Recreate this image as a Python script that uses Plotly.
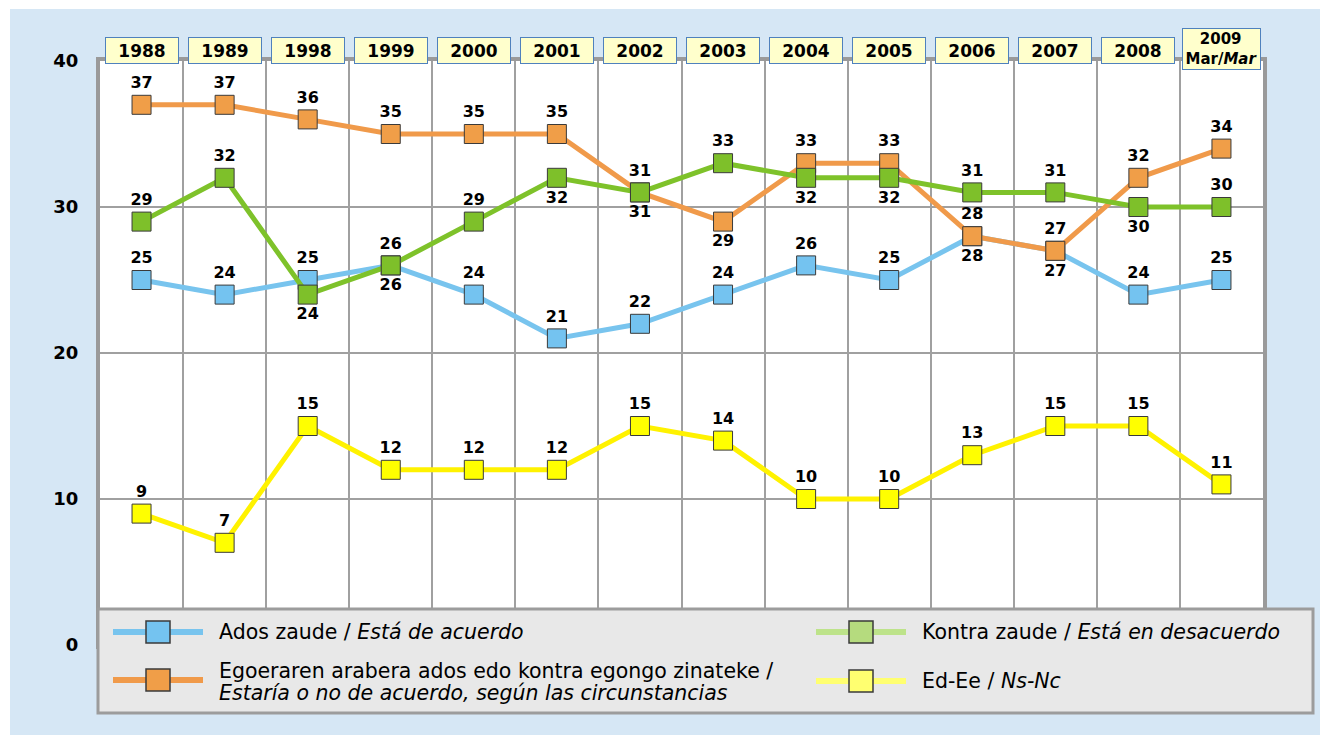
import plotly.graph_objects as go

years = ["1988", "1989", "1998", "1999", "2000", "2001", "2002", "2003",
         "2004", "2005", "2006", "2007", "2008", "2009"]
year_labels = ["1988", "1989", "1998", "1999", "2000", "2001", "2002", "2003",
               "2004", "2005", "2006", "2007", "2008", "2009<br>Mar/<i>Mar</i>"]

ados = [25, 24, 25, 26, 24, 21, 22, 24, 26, 25, 28, 27, 24, 25]
egoeraren = [37, 37, 36, 35, 35, 35, 31, 29, 33, 33, 28, 27, 32, 34]
kontra = [29, 32, 24, 26, 29, 32, 31, 33, 32, 32, 31, 31, 30, 30]
nsnc = [9, 7, 15, 12, 12, 12, 15, 14, 10, 10, 13, 15, 15, 11]

ados_pos = ["top center"] * 14
egoeraren_pos = ["top center"] * 14
for i in (7, 10, 11):
    egoeraren_pos[i] = "bottom center"
kontra_pos = ["top center" if i in (0, 1, 4, 7, 10, 11, 13) else "bottom center" for i in range(14)]
nsnc_pos = ["top center"] * 14

# page body has an 8px margin; work in reference-pixel coordinates
OFF = 8
W, H = 1328 - OFF, 735 - OFF
ML, MT = 100 - OFF, 61 - OFF
MR = W - (1263 - OFF)
MB = H - (645 - OFF)
PW, PH = W - ML - MR, H - MT - MB


def px(x):
    return (x - OFF - ML) / PW


def py(y):
    return (H - MB - (y - OFF)) / PH


FONT = "DejaVu Sans, Verdana, sans-serif"
MK_LINE = dict(color="#3a3a3a", width=1)

series = [
    ("Ados zaude", ados, ados_pos, "#78C4EE", "#74C3F0"),
    ("Egoeraren", egoeraren, egoeraren_pos, "#F09A4A", "#F09E48"),
    ("Kontra zaude", kontra, kontra_pos, "#7EC22A", "#7EC02A"),
    ("Ed-Ee", nsnc, nsnc_pos, "#FFF200", "#FFFF00"),
]

fig = go.Figure()
for name, vals, pos, lc, mc in series:
    fig.add_trace(go.Scatter(
        x=years, y=vals, mode="lines+markers+text", name=name,
        text=[str(v) for v in vals], textposition=pos,
        textfont=dict(family=FONT, size=16, color="black", weight="bold"),
        line=dict(color=lc, width=5),
        marker=dict(symbol="square", size=19, color=mc, line=MK_LINE),
        cliponaxis=False, showlegend=False,
    ))

shapes = []
shapes.append(dict(type="rect", xref="paper", yref="paper", layer="below",
                   x0=px(10), x1=px(1340), y0=py(9), y1=py(745),
                   fillcolor="#D6E7F5", line=dict(width=0)))
shapes.append(dict(type="rect", xref="paper", yref="paper", layer="below",
                   x0=0, x1=1, y0=0, y1=1,
                   fillcolor="white", line=dict(width=0)))
shapes.append(dict(type="rect", xref="paper", yref="paper", layer="above",
                   x0=px(98), x1=px(1313), y0=py(609), y1=py(713),
                   fillcolor="#E8E8E8", line=dict(color="#9C9C9C", width=3)))

legend_items = [
    (113, 203, 632, "#78C4EE", "#74C3F0",
     [("Ados zaude / <i>Está de acuerdo</i>", 632)]),
    (113, 203, 680, "#F09A4A", "#F09E48",
     [("Egoeraren arabera ados edo kontra egongo zinateke /", 671),
      ("<i>Estaría o no de acuerdo, según las circunstancias</i>", 693)]),
    (816, 906, 632, "#BDE38A", "#B5DB7E",
     [("Kontra zaude / <i>Está en desacuerdo</i>", 632)]),
    (816, 906, 681, "#FFFF70", "#FFFF70",
     [("Ed-Ee / <i>Ns-Nc</i>", 681)]),
]
annotations = []
for x0, x1, yc, lc, mc, lines in legend_items:
    shapes.append(dict(type="line", xref="paper", yref="paper", layer="above",
                       x0=px(x0), x1=px(x1), y0=py(yc), y1=py(yc),
                       line=dict(color=lc, width=6)))
    xm = (x0 + x1) / 2
    shapes.append(dict(type="rect", xref="paper", yref="paper", layer="above",
                       x0=px(xm - 12), x1=px(xm + 12), y0=py(yc - 11), y1=py(yc + 11),
                       fillcolor=mc, line=dict(color="#3a3a3a", width=1.5)))
    for txt, ty in lines:
        annotations.append(dict(xref="paper", yref="paper", x=px(x1 + 14), y=py(ty),
                                xanchor="left", yanchor="middle", align="left",
                                showarrow=False, text=txt,
                                font=dict(family=FONT, size=20.5, color="black")))

for i, lab in enumerate(year_labels):
    last = "<br>" in lab
    annotations.append(dict(
        xref="x", yref="paper", x=i, y=py(49.5 if last else 50.5),
        xanchor="center", yanchor="middle", showarrow=False,
        text=f"<b>{lab}</b>",
        font=dict(family=FONT, size=17 if not last else 15, color="black"),
        bgcolor="#FFFFCC", bordercolor="#4F81BD", borderwidth=1, borderpad=1,
        width=70 if not last else 75, height=23 if not last else 38,
    ))

fig.update_layout(
    width=W, height=H,
    margin=dict(l=ML, r=MR, t=MT, b=MB),
    paper_bgcolor="white", plot_bgcolor="white",
    shapes=shapes, annotations=annotations,
    showlegend=False,
    xaxis=dict(type="category", tickson="boundaries", showticklabels=False,
               ticks="", showgrid=True, gridcolor="#A0A0A0", gridwidth=2,
               showline=True, mirror=True, linecolor="#9A9A9A", linewidth=4,
               range=[-0.5, 13.5], zeroline=False),
    yaxis=dict(range=[0, 40], dtick=10, showgrid=True, gridcolor="#A0A0A0",
               gridwidth=2, zeroline=False, showline=True, mirror=True,
               linecolor="#9A9A9A", linewidth=4, ticks="",
               ticklabelstandoff=14,
               tickfont=dict(family=FONT, size=18, color="black", weight="bold")),
)

fig.write_html("out.html")
